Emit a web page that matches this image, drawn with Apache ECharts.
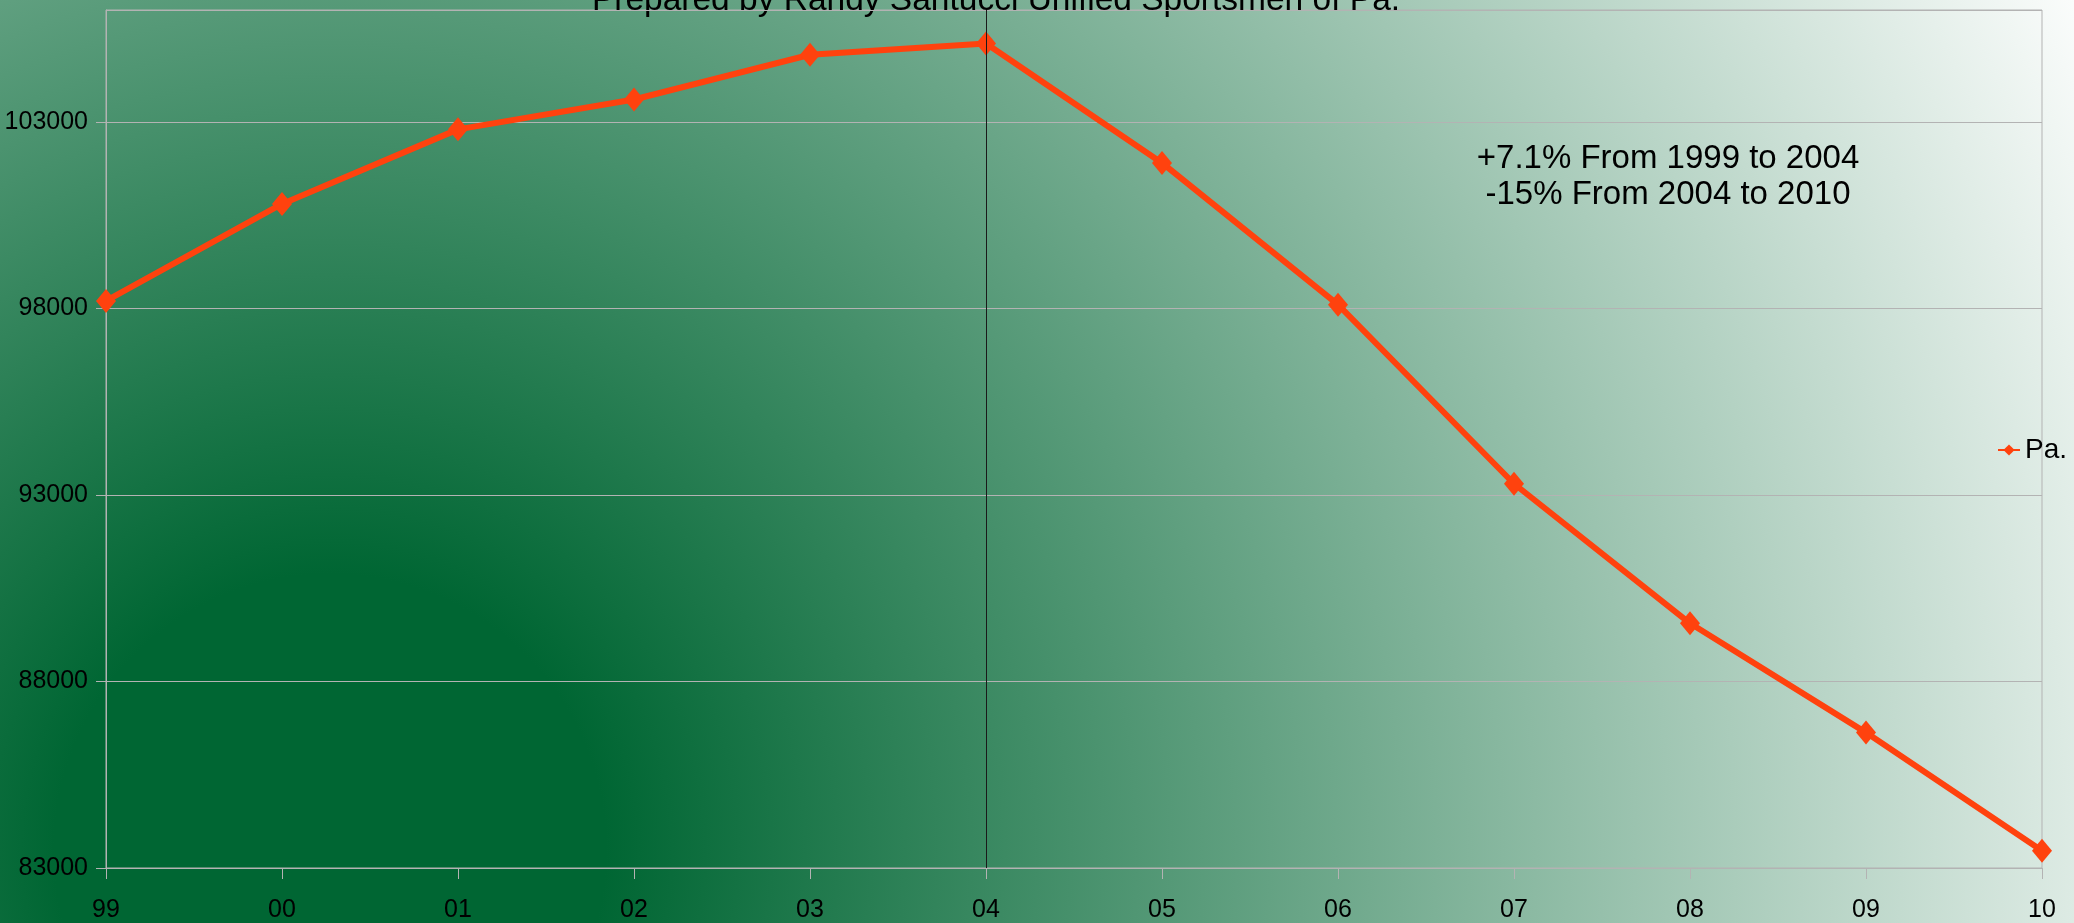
<!DOCTYPE html>
<html>
<head>
<meta charset="utf-8">
<title>Pa.</title>
<script src="https://cdn.jsdelivr.net/npm/echarts@6.0.0/dist/echarts.min.js"></script>
<style>
	html, body { margin: 0; padding: 0; }
	#main { width: 2074px; height: 923px; }
</style>
</head>
<body>
<div id="main"></div>
<script>
var years = ['99', '00', '01', '02', '03', '04', '05', '06', '07', '08', '09', '10'];
var paValues = [98200, 100800, 102800, 103600, 104800, 105100, 101900, 98100, 93300, 89560, 86630, 83460];
var seriesName = 'Pa.';
var titleText = 'Prepared by Randy Santucci Unified Sportsmen of Pa.';
var noteLines = ['+7.1% From 1999 to 2004', '-15% From 2004 to 2010'];
var peakYear = '04';

var myChart = echarts.init(document.getElementById('main'));
var font = '"Liberation Sans", Arial, sans-serif';

var option = {
	// green to white gradient, dark core bottom-left
	backgroundColor: {
		type: 'radial',
		x: 330, y: 850, r: 1970,
		global: true,
		colorStops: [
			{offset: 0, color: '#006633'},
			{offset: 0.14, color: '#006633'},
			{offset: 1, color: '#ffffff'}
		]
	},
	animation: false,
	textStyle: {fontFamily: font, color: '#000'},
	grid: {
		left: 106, right: 32, top: 10, bottom: 53,
		show: true,
		borderColor: '#b3b3b3',
		borderWidth: 1
	},
	legend: {
		data: [seriesName],
		left: 1992,
		top: 431,
		itemWidth: 22,
		itemHeight: 14,
		textStyle: {fontSize: 28, color: '#000', fontFamily: font}
	},
	graphic: [
		{
			type: 'text',
			x: 996, y: 1,
			style: {
				text: titleText,
				fontSize: 33.5,
				fontFamily: font,
				fill: '#000',
				align: 'center',
				verticalAlign: 'middle'
			}
		},
		{
			type: 'text',
			x: 1668, y: 141,
			style: {
				text: noteLines.join('\n'),
				fontSize: 33,
				fontFamily: font,
				lineHeight: 36,
				fill: '#000',
				align: 'center',
				verticalAlign: 'top'
			}
		}
	],
	xAxis: {
		type: 'category',
		data: years,
		boundaryGap: false,
		axisLine: {lineStyle: {color: '#b3b3b3', width: 1}},
		axisTick: {show: true, length: 11, lineStyle: {color: '#b3b3b3'}},
		axisLabel: {fontSize: 25, color: '#000', margin: 30, fontFamily: font},
		splitLine: {show: false}
	},
	yAxis: {
		type: 'value',
		min: 83000,
		max: 106000,
		interval: 5000,
		axisLine: {show: true, lineStyle: {color: '#b3b3b3', width: 1}},
		axisTick: {show: true, length: 10, lineStyle: {color: '#b3b3b3'}},
		axisLabel: {
			fontSize: 25, color: '#000', margin: 18, fontFamily: font,
			showMaxLabel: false,
			formatter: function (v) { return String(v); }
		},
		splitLine: {show: true, lineStyle: {color: '#b3b3b3', width: 1}}
	},
	series: [{
		name: seriesName,
		type: 'line',
		data: paValues,
		symbol: 'diamond',
		symbolSize: [20, 24],
		lineStyle: {color: '#ff420e', width: 6},
		itemStyle: {color: '#ff420e'},
		markLine: {
			silent: true,
			symbol: 'none',
			label: {show: false},
			lineStyle: {color: '#1a1a1a', width: 1, type: 'solid'},
			data: [{xAxis: peakYear}]
		}
	}]
};
myChart.setOption(option);
</script>
</body>
</html>
